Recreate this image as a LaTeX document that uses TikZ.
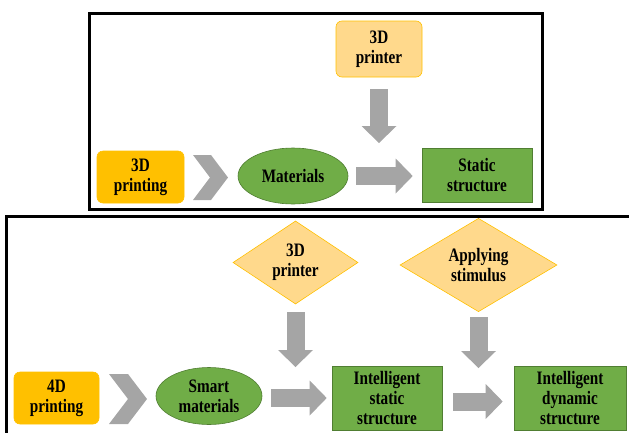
\documentclass[tikz,border=0pt]{standalone}
\usepackage{fontspec}
\setmainfont{Liberation Serif}[FakeStretch=0.8]
\usetikzlibrary{shapes.geometric,arrows.meta}
\definecolor{gold}{HTML}{FFC000}
\definecolor{paleorange}{HTML}{FFD98C}
\definecolor{leaf}{HTML}{70AD47}
\definecolor{leafdark}{HTML}{507E32}
\definecolor{arrowgray}{HTML}{A5A5A5}
\begin{document}
\begin{tikzpicture}[x=1pt,y=-1pt,
  every node/.style={font=\fontsize{19}{20}\selectfont\bfseries, align=center, inner sep=0pt},
  goldbox/.style={rectangle, rounded corners=6pt, fill=gold, draw=gold, line width=0.6pt},
  palebox/.style={rectangle, rounded corners=6pt, fill=paleorange, draw=gold, line width=0.6pt},
  paledia/.style={diamond, fill=paleorange, draw=gold, line width=0.6pt},
  greenbox/.style={rectangle, fill=leaf, draw=leafdark, line width=0.6pt},
  greenoval/.style={ellipse, fill=leaf, draw=leafdark, line width=0.6pt},
  fatarrow/.style={draw=arrowgray, line width=18pt, -{Triangle[length=17pt 0 0, width=35pt 0 0, line width=0pt 0 0]}},
  panel/.style={draw=black, line width=2.6pt}]
\useasboundingbox (0,0) rectangle (629,432);
\clip (0,0) rectangle (629,432);
\draw[panel] (89.5,13.5) rectangle (542.5,209.5);
\draw[panel] (6.5,216.5) rectangle (650,450);
\node[palebox, minimum width=86pt, minimum height=56pt] (printer) at (379,49) {3D\\printer};
\node[goldbox, minimum width=87pt, minimum height=52pt] (print3) at (140.5,177) {3D\\printing};
\node[greenoval, minimum width=110pt, minimum height=56pt] (mat) at (293,176) {Materials};
\node[greenbox, minimum width=110pt, minimum height=54pt] (stat) at (477,175) {Static\\structure};
\fill[arrowgray] (193,155) -- (211,155) -- (228,177.5) -- (211,200) -- (193,200) -- (210,177.5) -- cycle;
\coordinate (hit1) at (printer.south |- mat);
\draw[fatarrow, shorten <=8pt, shorten >=9pt] (mat.east) -- (mat.east -| stat.west);
\draw[fatarrow, shorten <=12pt, shorten >=33pt] (printer.south) -- (hit1);
\node[goldbox, minimum width=85pt, minimum height=52pt] (print4) at (56.5,398) {4D\\printing};
\fill[arrowgray] (109,374) -- (128,374) -- (147,399) -- (128,424) -- (109,424) -- (128,399) -- cycle;
\node[greenoval, minimum width=106pt, minimum height=57pt] (smat) at (209,396) {Smart\\materials};
\node[greenbox, minimum width=110pt, minimum height=64pt] (istat) at (387,398) {Intelligent\\static\\structure};
\node[greenbox, minimum width=112pt, minimum height=64pt] (idyn) at (570,398) {Intelligent\\dynamic\\structure};
\node[paledia, minimum width=125pt, minimum height=83pt] (printer2) at (295.5,262.5) {3D\\printer};
\node[paledia, minimum width=157pt, minimum height=84pt] (stim) at (478.5,265) {Applying\\stimulus};
\coordinate (hit2) at (printer2.south |- istat);
\coordinate (hit3) at (stim.south |- idyn);
\draw[fatarrow, shorten <=9pt, shorten >=5pt] (smat.east |- istat) -- (istat.west);
\draw[fatarrow, shorten <=11pt, shorten >=11pt] ([yshift=-3.5pt]istat.east) -- ([yshift=-3.5pt]idyn.west);
\draw[fatarrow, shorten <=8pt, shorten >=31pt] (printer2.south) -- (hit2);
\draw[fatarrow, shorten <=5pt, shorten >=30pt] (stim.south) -- (hit3);
\end{tikzpicture}
\end{document}
